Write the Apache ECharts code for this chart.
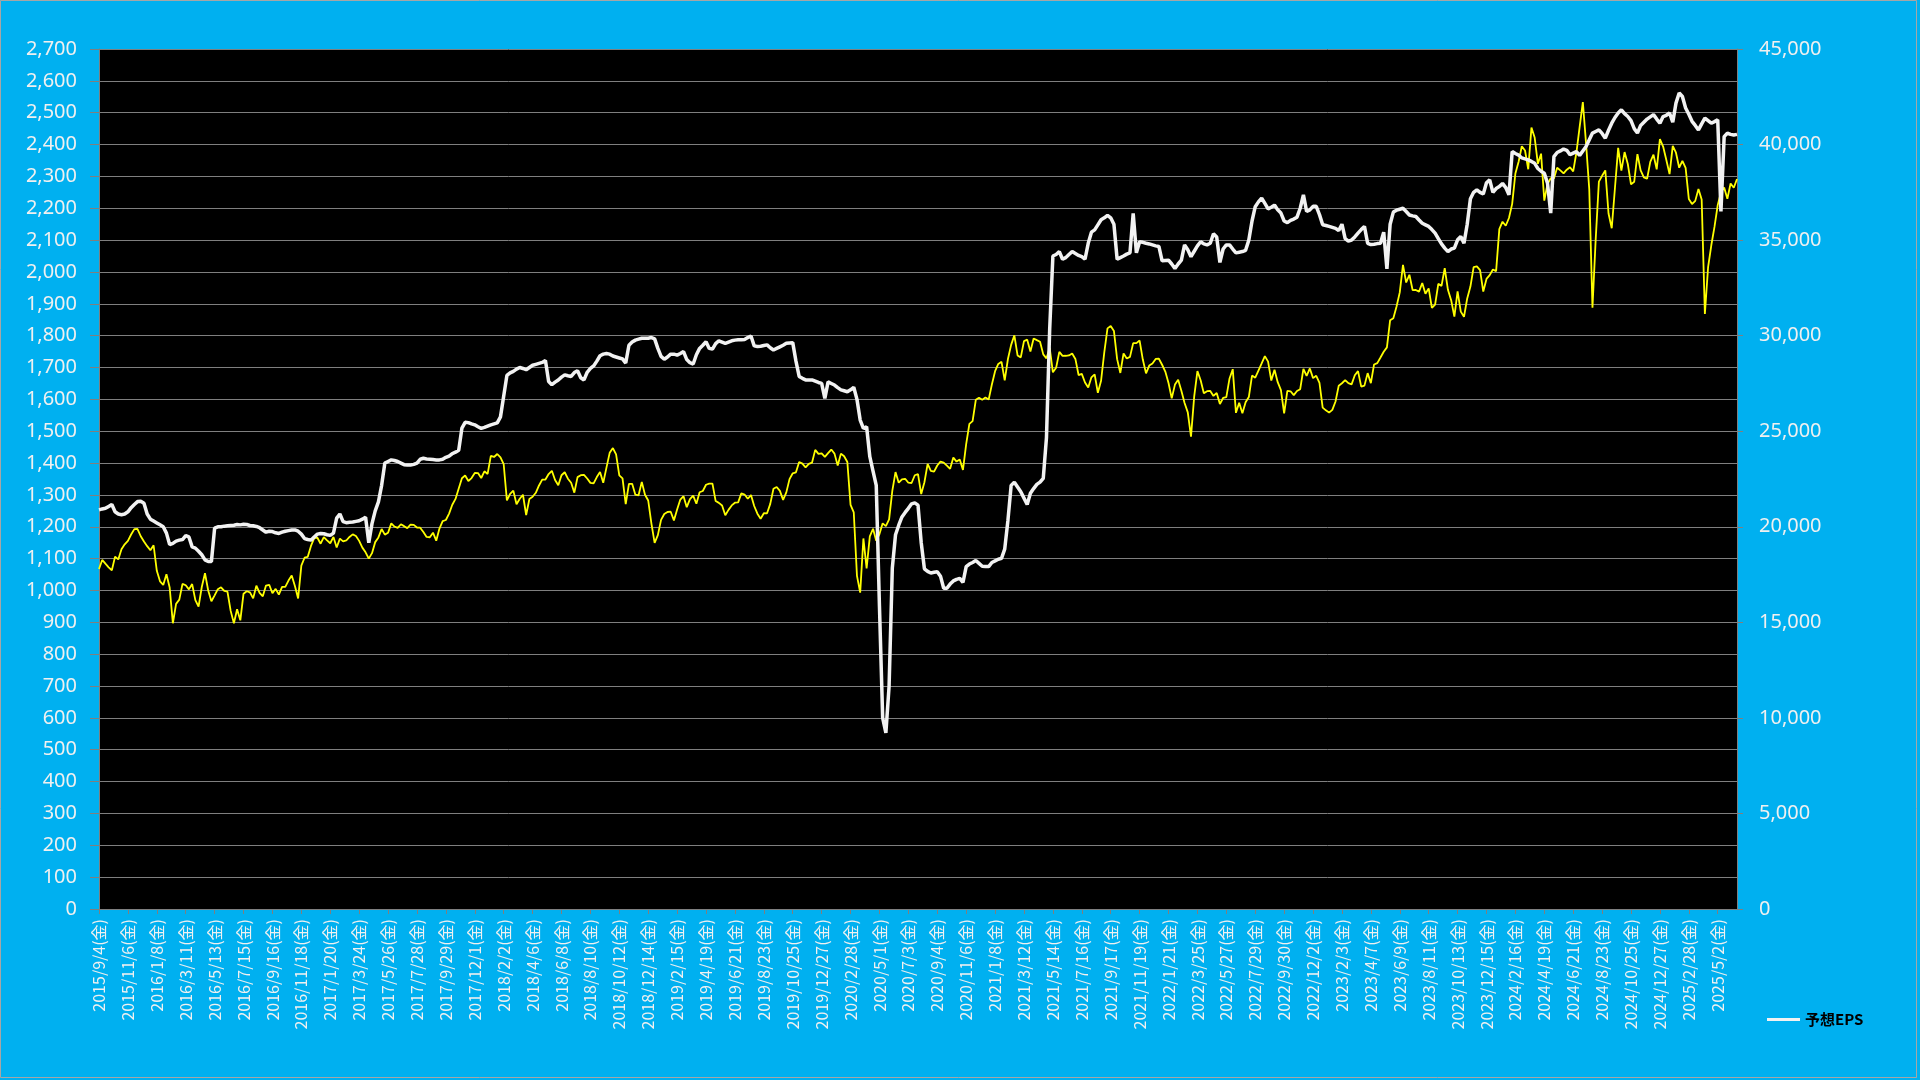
<!DOCTYPE html>
<html>
<head>
<meta charset="utf-8">
<script src="https://cdn.jsdelivr.net/npm/echarts@6/dist/echarts.min.js"></script>
<style>
html,body{margin:0;padding:0;background:#00B0F0;}
#c{width:1920px;height:1080px;}
</style>
</head>
<body>
<div id="c"></div>
<script>
// ---- categories: weekly Fridays starting 2015/9/4 ----
const startYear = 2015, startMonth = 9, startDay = 4;
const weekCount = 511;
const labelEveryWeeks = 9;

// ---- left axis (予想EPS) ----
const leftMin = 0, leftMax = 2700, leftStep = 100;
// ---- right axis (日経平均) ----
const rightMin = 0, rightMax = 45000, rightStep = 5000;

// 予想EPS (white line, left axis), one value per week
const epsForecast = [
1253,1256,1258,1264,1270,1247,1240,1238,1240,1247,
1260,1270,1279,1280,1274,1240,1224,1218,1212,1206,
1200,1180,1144,1148,1155,1158,1160,1172,1168,1137,
1133,1123,1112,1096,1091,1091,1196,1200,1200,1202,
1203,1204,1205,1207,1206,1208,1207,1204,1203,1201,
1197,1190,1183,1186,1185,1181,1179,1183,1186,1188,
1190,1190,1186,1177,1163,1160,1158,1168,1177,1179,
1178,1175,1173,1180,1227,1240,1216,1213,1214,1215,
1217,1219,1224,1230,1150,1210,1250,1278,1330,1400,
1405,1410,1408,1405,1400,1395,1394,1394,1396,1400,
1412,1415,1413,1412,1411,1410,1410,1412,1418,1422,
1430,1434,1440,1510,1528,1527,1523,1520,1514,1509,
1512,1516,1520,1523,1526,1545,1610,1675,1683,1688,
1695,1700,1697,1693,1700,1707,1710,1713,1716,1722,
1656,1646,1654,1661,1670,1677,1674,1672,1684,1690,
1668,1661,1685,1697,1705,1720,1737,1742,1744,1742,
1736,1733,1730,1727,1714,1770,1780,1786,1789,1792,
1792,1792,1794,1790,1760,1735,1726,1733,1742,1742,
1739,1744,1750,1725,1715,1711,1740,1760,1770,1781,
1760,1758,1775,1784,1780,1776,1780,1784,1786,1787,
1787,1788,1794,1799,1768,1766,1767,1769,1771,1762,
1755,1760,1765,1770,1776,1777,1778,1720,1672,1666,
1661,1661,1661,1657,1653,1650,1603,1655,1650,1645,
1637,1630,1627,1624,1630,1638,1600,1535,1509,1514,
1420,1375,1330,950,600,553,700,1070,1175,1205,
1231,1245,1258,1272,1275,1268,1150,1068,1060,1055,
1057,1059,1045,1007,1007,1020,1030,1035,1038,1025,
1075,1083,1088,1094,1085,1076,1075,1075,1088,1093,
1098,1101,1130,1220,1330,1340,1325,1310,1290,1270,
1305,1320,1333,1340,1352,1480,1820,2050,2055,2064,
2040,2045,2055,2064,2058,2052,2048,2040,2090,2125,
2132,2148,2164,2170,2178,2170,2150,2040,2045,2050,
2056,2060,2184,2060,2095,2093,2090,2088,2085,2082,
2080,2035,2036,2037,2025,2011,2025,2037,2085,2070,
2048,2065,2082,2095,2088,2085,2090,2120,2110,2030,
2072,2085,2085,2072,2060,2062,2064,2068,2100,2160,
2205,2220,2232,2215,2198,2203,2210,2195,2185,2160,
2155,2162,2166,2172,2200,2242,2190,2195,2206,2206,
2180,2148,2146,2143,2140,2137,2130,2150,2105,2097,
2100,2110,2122,2133,2143,2090,2086,2087,2089,2090,
2125,2010,2150,2188,2194,2197,2200,2190,2179,2176,
2174,2163,2153,2148,2143,2133,2122,2105,2088,2075,
2064,2072,2075,2101,2111,2090,2150,2230,2250,2258,
2250,2245,2280,2289,2250,2262,2268,2278,2265,2242,
2378,2372,2367,2358,2355,2352,2347,2341,2325,2316,
2310,2279,2185,2362,2375,2380,2386,2382,2368,2373,
2378,2366,2380,2394,2415,2436,2441,2446,2435,2420,
2445,2467,2485,2499,2509,2497,2488,2475,2450,2436,
2460,2470,2480,2487,2494,2480,2467,2488,2492,2499,
2470,2530,2562,2551,2515,2495,2473,2460,2446,2465,
2483,2475,2467,2472,2478,2190,2425,2436,2432,2430,
2432
];

// 日経平均 (yellow line, right axis), one value per week
const nikkei2015 = [17792,18264,18070,17880,17725,18438,18291,18825,19083,19265,19596,19879,19883,19504,19230,18986,18769];
const nikkei2016 = [19034,17697,17147,16958,17518,16819,14952,15967,16188,17014,16938,16724,17002,16164,15821,16848,17572,16666,16106,16412,16736,16834,16642,16601,15599,14952,15682,15106,16497,16627,16569,16254,16919,16545,16360,16925,16965,16519,16754,16449,16860,16856,17184,17446,16905,16251,17967,18381,18426,18996,19401,19427,19114];
const nikkei2017 = [19454,19287,19137,19467,18918,19378,19235,19283,19469,19605,19521,19262,18909,18665,18335,18620,19197,19445,19883,19590,19687,20177,20013,19943,20132,20033,19929,20118,20099,19959,19952,19729,19470,19452,19691,19274,19909,20296,20356,20690,21155,21457,22008,22539,22681,22397,22550,22819,22811,22553,22902,22765];
const nikkei2018 = [23714,23653,23808,23632,23274,21382,21720,21892,21182,21469,21676,20617,21454,21568,21778,22162,22468,22473,22758,22930,22451,22171,22695,22852,22516,22305,21788,22597,22698,22713,22525,22298,22270,22601,22865,22307,23094,23870,24120,23784,22694,22532,21184,22243,22250,21680,21646,22351,21679,21375,20166,19155];
const nikkei2019 = [19561,20360,20666,20774,20788,20333,20900,21426,21602,21025,21451,21627,21206,21807,21871,22200,22259,22259,21345,21250,21117,20601,20885,21117,21259,21276,21746,21686,21467,21658,21087,20685,20419,20711,20704,21200,21988,22079,21879,21410,21799,22493,22800,22851,23392,23303,23113,23294,23355,24023,23817,23838];
const nikkei2020 = [23657,23851,24041,23827,23205,23828,23688,23387,21143,20750,17431,16553,19389,17820,19499,19897,19262,19619,20179,20037,20388,21878,22863,22305,22478,22512,22306,22290,22696,22751,21710,22329,23289,22920,22882,23205,23406,23360,23204,23030,23619,23410,23516,22977,24325,25385,25527,26644,26751,26652,26763,26656];
const nikkei2021 = [27444,28139,28519,28631,27663,28779,29520,30018,28966,28864,29717,29792,29176,29854,29768,29683,29020,28813,29357,28084,28317,29149,28941,28948,28964,29066,28783,27940,28003,27548,27283,27820,27977,27013,27641,29128,30382,30500,30248,28771,28049,29068,28804,28892,29611,29609,29745,28751,28029,28437,28545,28782,28791];
const nikkei2022 = [28478,28124,27522,26717,27439,27696,27122,26476,25985,24717,26827,28149,27666,26985,27093,27105,26847,27003,26427,26739,26781,27761,28246,25963,26491,25935,26517,26788,27914,27801,28175,28546,28930,28641,27650,28214,27567,27153,25937,27116,27090,26891,27105,27199,28263,27899,28283,27777,27901,27527,26235,26094];
const nikkei2023 = [25974,26120,26553,27383,27509,27671,27513,27453,27927,28143,27333,27385,28041,27518,28493,28564,28856,29157,29388,30808,30916,31524,32265,33706,32781,33189,32388,32391,32304,32759,32193,32473,31450,31624,32710,32606,33533,32402,31858,30995,32315,31259,30991,31950,32568,33585,33625,33431,32307,32970,33169,33464];
const nikkei2024 = [33377,35577,35963,35751,36158,36897,38487,39098,39911,39689,38708,40888,40369,38992,39523,37068,37934,38236,38229,38787,38646,38488,38684,38815,38596,39583,40912,42224,40063,37667,31458,35025,38062,38364,38648,36391,35620,37724,39830,38636,39606,38982,37914,38054,39501,38643,38284,38208,39092,39470,38702,40281];
const nikkei2025 = [39895,39190,38451,39931,39572,38787,39149,38777,37156,36887,37053,37677,37120,31136,33586,34730,35705,36831,37503,37754,37160,37965,37742,38200];

const nikkei = [].concat(nikkei2015, nikkei2016, nikkei2017, nikkei2018, nikkei2019,
  nikkei2020, nikkei2021, nikkei2022, nikkei2023, nikkei2024, nikkei2025);

const categories = [];
for (let i = 0; i < weekCount; i++) {
  const d = new Date(Date.UTC(startYear, startMonth - 1, startDay + 7 * i));
  categories.push(d.getUTCFullYear() + '/' + (d.getUTCMonth() + 1) + '/' + d.getUTCDate() + '(金)');
}

const fmt = v => v.toLocaleString('en-US');
const gridGray = '#7F7F7F';
const labelColor = '#F0F0F0';

const chart = echarts.init(document.getElementById('c'), null, {renderer: 'canvas'});
chart.setOption({
  animation: false,
  backgroundColor: '#00B0F0',
  grid: {left: 99, right: 183, top: 49, bottom: 171, show: true, backgroundColor: '#000000', borderWidth: 0},
  graphic: [{
    type: 'rect', silent: true,
    shape: {x: 0.5, y: 0.5, width: 1916, height: 1077},
    style: {fill: null, stroke: '#A6A6A6', lineWidth: 1}
  }],
  legend: {
    data: [{name: '予想EPS', icon: 'rect'}],
    left: 1767, top: 1012, padding: 0,
    itemWidth: 33, itemHeight: 3, itemGap: 10,
    textStyle: {color: '#000000', fontSize: 15, fontWeight: 'bold', fontFamily: 'Noto Sans CJK JP'}
  },
  xAxis: {
    type: 'category', data: categories, boundaryGap: false,
    axisLine: {show: true, lineStyle: {color: gridGray, width: 1}},
    axisTick: {show: true, interval: labelEveryWeeks - 1, length: 5, lineStyle: {color: gridGray}},
    axisLabel: {interval: labelEveryWeeks - 1, rotate: 90, color: labelColor, fontSize: 16, margin: 10,
      fontFamily: 'Noto Sans CJK JP'},
    splitLine: {show: false}
  },
  yAxis: [{
    type: 'value', position: 'left', min: leftMin, max: leftMax, interval: leftStep,
    axisLine: {show: true, lineStyle: {color: gridGray}},
    axisTick: {show: true, length: 9, lineStyle: {color: gridGray}},
    axisLabel: {color: labelColor, fontSize: 20, margin: 22, fontFamily: 'Noto Sans', formatter: fmt},
    splitLine: {show: true, lineStyle: {color: gridGray, width: 1}}
  }, {
    type: 'value', position: 'right', min: rightMin, max: rightMax, interval: rightStep,
    axisLine: {show: true, lineStyle: {color: gridGray}},
    axisTick: {show: true, length: 6, lineStyle: {color: gridGray}},
    axisLabel: {color: labelColor, fontSize: 20, margin: 22, fontFamily: 'Noto Sans', formatter: fmt},
    splitLine: {show: false}
  }],
  series: [{
    name: '日経平均', type: 'line', yAxisIndex: 1, data: nikkei,
    showSymbol: false, symbol: 'none', z: 2,
    lineStyle: {color: '#FFFF00', width: 1.8}, itemStyle: {color: '#FFFF00'}
  }, {
    name: '予想EPS', type: 'line', yAxisIndex: 0, data: epsForecast,
    showSymbol: false, symbol: 'none', z: 3,
    lineStyle: {color: '#F2F2F2', width: 3.5}, itemStyle: {color: '#F2F2F2'}
  }]
});
</script>
</body>
</html>
